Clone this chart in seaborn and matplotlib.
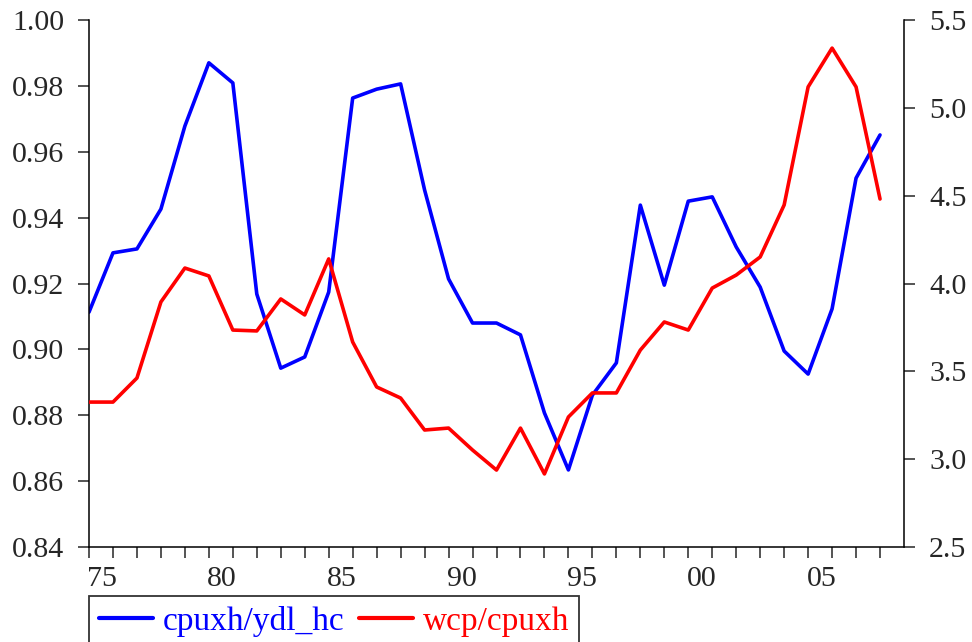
import numpy as np
import pandas as pd
import matplotlib
matplotlib.use("Agg")
import matplotlib.pyplot as plt
import seaborn as sns

# Annual observations, 1974-2007
years = list(range(1974, 2008))

cpuxh_ydl_hc = [
    0.9113, 0.9293, 0.9305, 0.9426, 0.9678, 0.9870, 0.9809, 0.9168,
    0.8943, 0.8977, 0.9174, 0.9763, 0.9790, 0.9806, 0.9484, 0.9214,
    0.9080, 0.9080, 0.9044, 0.8807, 0.8634, 0.8861, 0.8959, 0.9438,
    0.9195, 0.9450, 0.9463, 0.9311, 0.9189, 0.8995, 0.8925, 0.9123,
    0.9520, 0.9651,
]

wcp_cpuxh = [
    3.325, 3.325, 3.462, 3.895, 4.088, 4.043, 3.735, 3.730,
    3.912, 3.821, 4.140, 3.667, 3.411, 3.348, 3.166, 3.177,
    3.052, 2.938, 3.177, 2.916, 3.240, 3.377, 3.377, 3.621,
    3.781, 3.735, 3.974, 4.048, 4.151, 4.447, 5.119, 5.340,
    5.119, 4.481,
]

left_ticks = [0.84, 0.86, 0.88, 0.90, 0.92, 0.94, 0.96, 0.98, 1.00]
right_ticks = [2.5, 3.0, 3.5, 4.0, 4.5, 5.0, 5.5]
label_years = [1975, 1980, 1985, 1990, 1995, 2000, 2005]
label_text = ["75", "80", "85", "90", "95", "00", "05"]

df = pd.DataFrame({"year": years, "cpuxh/ydl_hc": cpuxh_ydl_hc, "wcp/cpuxh": wcp_cpuxh})

sns.set_style("ticks")
plt.rcParams["font.family"] = ["Liberation Serif", "DejaVu Serif"]
plt.rcParams["axes.linewidth"] = 1.1

fig = plt.figure(figsize=(9.72, 6.42), dpi=100)
ax = fig.add_axes([89 / 972, 1 - 547 / 642, (904 - 89) / 972, (547 - 20) / 642])
ax2 = ax.twinx()

lw = 2.6
sns.lineplot(data=df, x="year", y="cpuxh/ydl_hc", ax=ax, color="#0000ff",
             linewidth=lw, label="cpuxh/ydl_hc", legend=False)
sns.lineplot(data=df, x="year", y="wcp/cpuxh", ax=ax2, color="#ff0000",
             linewidth=lw, label="wcp/cpuxh", legend=False)

ax.set_xlim(1974, 2008)
ax.set_ylim(0.84, 1.00)
ax2.set_ylim(2.5, 5.5)

ax.set_yticks(left_ticks)
ax.set_yticklabels([f"{t:.2f}" for t in left_ticks])
ax2.set_yticks(right_ticks)
ax2.set_yticklabels([f"{t:.1f}" for t in right_ticks])

# Year ticks every year; period labels sit just before each labelled year
ax.set_xticks(years, minor=True)
ax.set_xticks([y - 0.45 for y in label_years])
ax.set_xticklabels(label_text)
ax.tick_params(axis="x", which="major", length=0, pad=14, labelsize=21.5)
ax.tick_params(axis="x", which="minor", length=8, width=1.1, direction="out")
ax.tick_params(axis="y", which="major", length=8, width=1.1, pad=10, labelsize=21.5)
ax2.tick_params(axis="y", which="major", length=8, width=1.1, pad=10, labelsize=21.5)

for a in (ax, ax2):
    a.set_xlabel("")
    a.set_ylabel("")
    a.spines["top"].set_visible(False)
ax.spines["right"].set_visible(False)
ax2.spines["left"].set_visible(False)
ax2.spines["bottom"].set_visible(False)
for s in ("left", "bottom"):
    ax.spines[s].set_color("black")
ax2.spines["right"].set_color("black")

handles = ax.get_lines()[:1] + ax2.get_lines()[:1]
leg = fig.legend(handles, ["cpuxh/ydl_hc", "wcp/cpuxh"], ncol=2,
                 loc="upper left", bbox_to_anchor=(89 / 972, 1 - 596 / 642),
                 frameon=True, fancybox=False, edgecolor="black",
                 fontsize=24, handlelength=1.62, handletextpad=0.3,
                 columnspacing=0.42, borderpad=0.3, borderaxespad=0,
                 labelcolor="linecolor")
leg.get_frame().set_linewidth(1.3)
for h in leg.legend_handles:
    h.set_linewidth(3.0)

fig.savefig("out.png", dpi=100)
